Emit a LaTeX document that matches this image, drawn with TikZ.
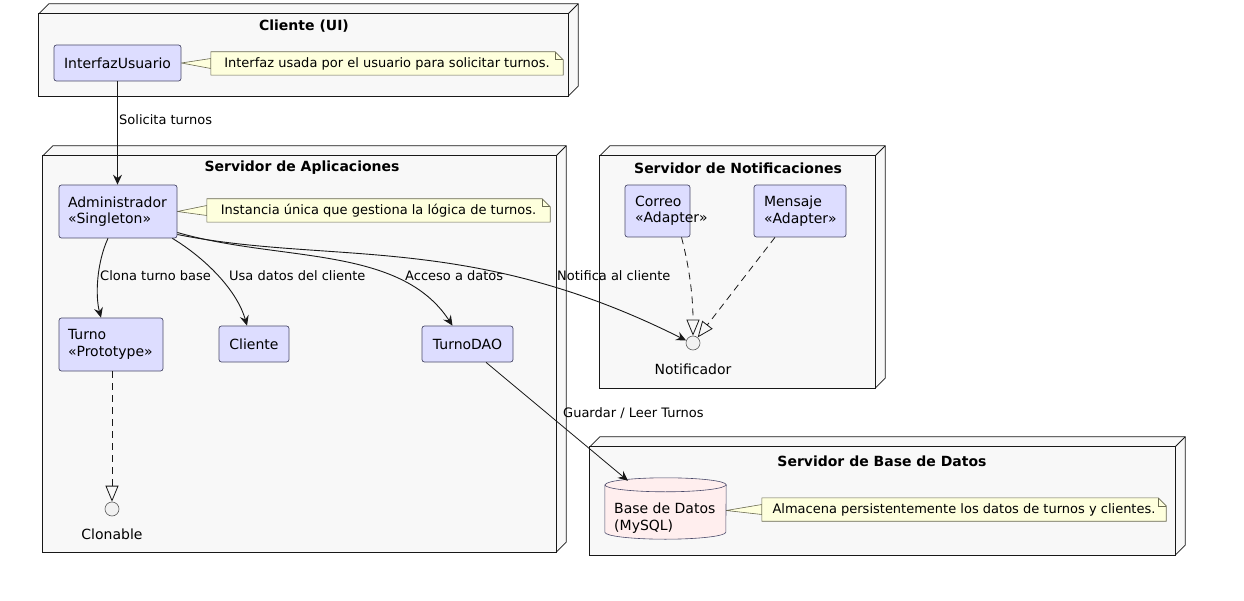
\documentclass[tikz,border=0pt]{standalone}
\usepackage{fontspec}
\setmainfont{DejaVu Sans}
\usetikzlibrary{arrows.meta,calc}
\definecolor{nodefill}{HTML}{DDDDFF}
\definecolor{elemline}{HTML}{4A4A6A}
\definecolor{pkgfill}{HTML}{F8F8F8}
\definecolor{notefill}{HTML}{FEFFDD}
\definecolor{noteline}{HTML}{6A6A50}
\definecolor{dbfill}{HTML}{FFEEEE}
\definecolor{circfill}{HTML}{F1F1F1}
\definecolor{ink}{HTML}{181818}
\pgfdeclarelayer{back}
\pgfdeclarelayer{mid}
\pgfsetlayers{back,mid,main}
\begin{document}
\begin{tikzpicture}[x=1pt,y=1pt,
  elem/.style={draw=elemline, fill=nodefill, line width=0.7pt, rounded corners=2.5pt, inner sep=0pt,
    font=\fontsize{14}{16.5}\selectfont, align=left},
  pkg/.style={draw=none, fill=pkgfill, inner sep=0pt},
  pkgline/.style={draw=ink, line width=0.8pt, line join=miter},
  pkgtitle/.style={font=\fontsize{14}{16}\selectfont\bfseries, inner sep=0pt},
  notetext/.style={font=\fontsize{13}{15}\selectfont, inner sep=0pt},
  noteshape/.style={draw=noteline, fill=notefill, line width=0.6pt},
  elabel/.style={font=\fontsize{13}{15}\selectfont, inner sep=0pt, anchor=west},
  conn/.style={draw=ink, line width=0.9pt, -{Stealth[length=10pt,width=9pt,inset=3.5pt]}},
  real/.style={draw=ink, line width=0.8pt, dash pattern=on 7pt off 5pt,
    -{Triangle[open, length=16pt, width=13pt, line width=0.8pt]}},
  iface/.style={circle, draw=ink!70, fill=circfill, line width=0.6pt, minimum size=14pt, inner sep=0pt},
  ilabel/.style={font=\fontsize{14}{16}\selectfont, inner sep=0pt}
]
\useasboundingbox (0,0) rectangle (1244,-601);

% ---------- containers ----------
\begin{pgfonlayer}{back}
\fill[white] (0,0) rectangle (1244,-601);
\node[pkg, minimum width=529pt, minimum height=82pt] (cui) at (303.5,-55) {};
\node[pkg, minimum width=513pt, minimum height=396pt] (app) at (299.5,-354) {};
\node[pkg, minimum width=275pt, minimum height=232pt] (nsrv) at (737.5,-272) {};
\node[pkg, minimum width=585pt, minimum height=108pt] (dsrv) at (882.5,-501) {};
\foreach \c in {cui,app,nsrv,dsrv}{
  \fill[pkgfill] (\c.north west) -- ++(10,10) -| ($(\c.south east)+(10,10)$) -- (\c.south east) -- (\c.north east) -- cycle;
  \draw[pkgline] (\c.north west) -- ++(10,10) -| ($(\c.south east)+(10,10)$) -- (\c.south east);
  \draw[pkgline] (\c.north east) -- ++(10,10);
  \draw[pkgline] (\c.north west) rectangle (\c.south east);
}
\end{pgfonlayer}
\node[pkgtitle] (tcui) at (304,-26) {Cliente (UI)};
\node[pkgtitle] (tapp) at (302,-168) {Servidor de Aplicaciones};
\node[pkgtitle] (tnsrv) at (738,-168) {Servidor de Notificaciones};
\node[pkgtitle] (tdsrv) at (882,-461) {Servidor de Base de Datos};

% ---------- elements ----------
\node[elem, minimum width=127pt, minimum height=36pt, align=center] (iu) at (117.5,-63) {InterfazUsuario};
\node[elem, minimum width=118pt, minimum height=53pt, text width=100pt] (adm) at (118,-211.5) {Administrador\\«Singleton»};
\node[elem, minimum width=104pt, minimum height=53pt, text width=86pt] (turno) at (111,-344.5) {Turno\\«Prototype»};
\node[elem, minimum width=70pt, minimum height=36pt, align=center] (cli) at (254,-344) {Cliente};
\node[elem, minimum width=91pt, minimum height=36pt, align=center] (dao) at (467.5,-344) {TurnoDAO};
\node[elem, minimum width=65pt, minimum height=52pt, text width=45pt] (correo) at (657.5,-211) {Correo\\«Adapter»};
\node[elem, minimum width=92pt, minimum height=52pt, text width=72pt] (mensaje) at (800,-211) {Mensaje\\«Adapter»};

\node[iface] (clon) at (112,-509) {};
\node[ilabel] (clonl) at (112,-534) {Clonable};
\node[iface] (notif) at (693,-343) {};
\node[ilabel] (notifl) at (693,-369) {Notificador};

% database cylinder
\node[minimum width=121pt, minimum height=61pt, inner sep=0pt] (db) at (665.5,-508.5) {};
\draw[draw=elemline, fill=dbfill, line width=0.6pt]
  ($(db.north west)+(0,-7)$) -- ($(db.south west)+(0,7)$)
  arc[start angle=180, end angle=360, x radius=60.5, y radius=7]
  -- ($(db.north east)+(0,-7)$)
  arc[start angle=0, end angle=180, x radius=60.5, y radius=7] -- cycle;
\draw[draw=elemline, line width=0.6pt] ($(db.north west)+(0,-7)$)
  arc[start angle=180, end angle=360, x radius=60.5, y radius=7];
\node[font=\fontsize{14}{16.5}\selectfont, align=left, inner sep=0pt, anchor=west] (dbt) at (614,-518) {Base de Datos\\(MySQL)};

% ---------- notes ----------
\node[notetext, minimum width=352pt, minimum height=23pt] (n1) at (387,-63.5) {Interfaz usada por el usuario para solicitar turnos.};
\node[notetext, minimum width=343pt, minimum height=23pt] (n2) at (378.5,-210.5) {Instancia única que gestiona la lógica de turnos.};
\node[notetext, minimum width=404pt, minimum height=23pt] (n3) at (964,-509.5) {Almacena persistentemente los datos de turnos y clientes.};
\begin{pgfonlayer}{mid}
\draw[noteshape] (iu.east) -- ([yshift=5pt]n1.west) -- ([yshift=-5pt]n1.west) -- cycle;
\draw[noteshape] (adm.east) -- ([yshift=5pt]n2.west) -- ([yshift=-5pt]n2.west) -- cycle;
\draw[noteshape] ($(db.east)+(0,-2)$) -- ([yshift=5pt]n3.west) -- ([yshift=-5pt]n3.west) -- cycle;
\foreach \n in {n1,n2,n3}{
  \draw[noteshape] (\n.north west) -- ([xshift=-8pt]\n.north east) -- ([yshift=-8pt]\n.north east)
    -- (\n.south east) -- (\n.south west) -- cycle;
  \draw[noteshape, fill=none] ([xshift=-8pt]\n.north east) |- ([yshift=-8pt]\n.north east);
}
\end{pgfonlayer}

% ---------- connectors ----------
\draw[conn] (iu.south) -- (iu.south |- adm.north);
\node[elabel] (l1) at (119,-120) {Solicita turnos};

\draw[conn] ([xshift=-10pt]adm.south) .. controls (97,-262) and (95,-295) .. ([xshift=-10pt]turno.north);
\node[elabel] (l2) at (100,-276) {Clona turno base};

\draw[conn] ([xshift=-5pt]adm.south east) .. controls (205,-258) and (237,-290) .. ([xshift=-7pt]cli.north);
\node[elabel] (l3) at (229,-276) {Usa datos del cliente};

\draw[conn] ([yshift=-21pt]adm.east) .. controls (280,-262) and (400,-245) .. ([xshift=-15pt]dao.north);
\node[elabel] (l4) at (405,-276) {Acceso a datos};

\draw[conn] ([yshift=-23pt]adm.east) .. controls (330,-265) and (470,-232) .. (notif.160);
\node[elabel] (l5) at (557,-276) {Notifica al cliente};

\draw[conn, line width=0.8pt] ([xshift=18.5pt]dao.south) -- ($(db.north)+(-37.5,-3)$);
\node[elabel] (l6) at (563,-413) {Guardar / Leer Turnos};

\draw[real] (clon.north |- turno.south) -- (clon.north);
\draw[real] ([xshift=24pt]correo.south) .. controls (688,-262) and (693,-292) .. (notif.north);
\draw[real] ([xshift=-25pt]mensaje.south) -- (notif.50);
\end{tikzpicture}
\end{document}
